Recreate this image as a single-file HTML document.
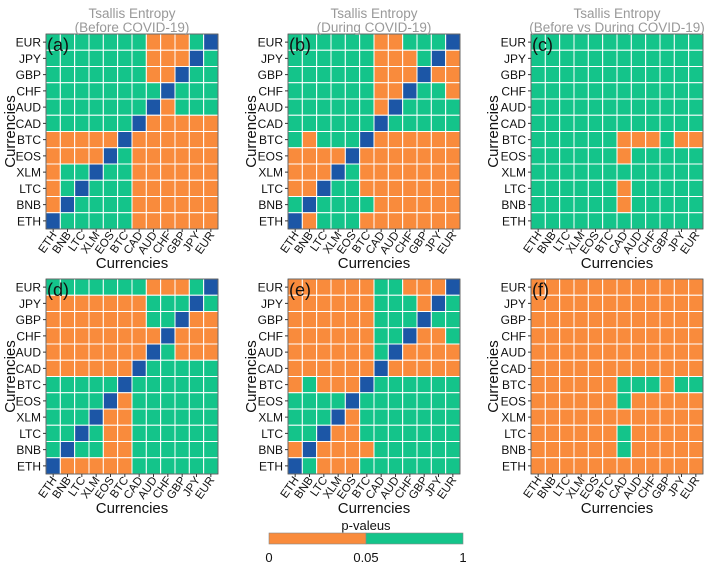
<!DOCTYPE html>
<html><head><meta charset="utf-8">
<style>
body{margin:0;background:#fff;}
svg{display:block;font-family:"Liberation Sans",Arial,sans-serif;}
</style></head>
<body>
<svg id="chart" width="711" height="567" viewBox="0 0 711 567" xmlns="http://www.w3.org/2000/svg"></svg>
<script>
// Categories
const currencies = ["ETH","BNB","LTC","XLM","EOS","BTC","CAD","AUD","CHF","GBP","JPY","EUR"];
// Matrices: rows listed top (EUR) to bottom (ETH); columns ETH..EUR. G = p>0.05, O = p<0.05, B = diagonal
const panelA = ["GGGGGGGOOOGB","GGGGGGGOOOBG","GGGGGGGOOBGG","GGGGGGGGBGGG","GGGGGGGBOGGG","GGGGGGBOOOOO","OOOOOBOOOOOO","OOOOBGOOOOOO","OGGBGGOOOOOO","OGBGGGOOOOOO","OBGGGGOOOOOO","BGGGGGOOOOOO"];
const panelB = ["GGGGGGOOGGGB","GGGGGGOOOGBO","GGGGGGOOOBOO","GGGGGGOOBGGO","GGGGGGOBGGGG","GGGGGGBGGGGG","GOGGGBOOOOOO","OOOOBOOOOOOO","OOOBGOOOOOOO","OOBGGOOOOOOO","GBGGGGOOOOOO","BOGGGOOOOOOO"];
const panelC = ["GGGGGGGGGGGG","GGGGGGGGGGGG","GGGGGGGGGGGG","GGGGGGGGGGGG","GGGGGGGGGGGG","GGGGGGGGGGGG","GGGGGGOOOGOO","GGGGGGOGGGGG","GGGGGGGGGGGG","GGGGGGOGGGGG","GGGGGGOGGGGG","GGGGGGGGGGGG"];
const panelD = ["GGGGGGGOOOGB","OOOOOOOGGGBG","OOOOOOOGGBOO","OOOOOOOOBOOO","OOOOOOOBGOOO","OOOOOOBGGGGG","GGGGGBGGGGGG","GGGGBOGGGGGG","GGGBOOGGGGGG","GGBGOOGGGGGG","GBGGOOGGGGGG","BOOOOOGGGGGG"];
const panelE = ["OOOOOOGGOOOB","OOOOOOGGGOBG","OOOOOOGGGBGG","OOOOOOGGBOOG","OOOOOOGBOOOO","OOOOOOBOOOOO","OGOOOBGGGGGG","GGGGBGGGGGGG","GGGBOGGGGGGG","GGBOOGGGGGGG","OBOOOOGGGGGG","BGOOOGGGGGGG"];
const panelF = ["OOOOOOOOOOOO","OOOOOOOOOOOO","OOOOOOOOOOOO","OOOOOOOOOOOO","OOOOOOOOOOOO","OOOOOOOOOOOO","OOOOOOGGGOGG","OOOOOOGOOOOO","OOOOOOOOOOOO","OOOOOOGOOOOO","OOOOOOGOOOOO","OOOOOOOOOOOO"];
const panelLetters = ["(a)","(b)","(c)","(d)","(e)","(f)"];
const titles1 = ["Tsallis Entropy","Tsallis Entropy","Tsallis Entropy"];
const titles2 = ["(Before COVID-19)","(During COVID-19)","(Before vs During COVID-19)"];
const legendTicks = ["0","0.05","1"];

const COLORS = {G:"#14c48a",O:"#f98b3c",B:"#1c56a6"};
const NS = "http://www.w3.org/2000/svg";
const svg = document.getElementById("chart");
function mk(tag, attrs, parent){const e=document.createElementNS(NS,tag);for(const k in attrs)e.setAttribute(k,attrs[k]);(parent||svg).appendChild(e);return e;}

const lefts=[46,288,531], tops=[34,279], W=172, H=195;
const panels=[panelA,panelB,panelC,panelD,panelE,panelF];
const n=currencies.length;
const cw=W/n, ch=H/n;
function xPos(ci,x0){return x0+ci*cw;}
function yPos(ri,y0){return y0+ri*ch;}

panels.forEach((mat,pi)=>{
  const x0=lefts[pi%3], y0=tops[Math.floor(pi/3)];
  const g=mk("g",{});
  
  
  mat.forEach((row,ri)=>{
    for(let ci=0;ci<n;ci++){
      const r=mk("rect",{x:xPos(ci,x0),y:yPos(ri,y0),width:cw,height:ch,fill:COLORS[row[ci]],stroke:"#ffffff","stroke-width":1},g);
      
      
    }
  });
  const fr=mk("rect",{x:x0,y:y0,width:W,height:H,fill:"none",stroke:"#444","stroke-width":0.8},g);
  
  
  for(let ri=0;ri<n;ri++){
    const yc=yPos(ri,y0)+ch/2;
    const t=mk("text",{x:x0-5,y:yc+4.5,"text-anchor":"end","font-size":12,fill:"#111"},g);
    t.textContent=currencies[n-1-ri];
    
    
    mk("line",{x1:x0-3,x2:x0,y1:yc,y2:yc,stroke:"#333","stroke-width":1},g);
  }
  for(let ci=0;ci<n;ci++){
    const xc=xPos(ci,x0)+cw/2;
    mk("line",{x1:xc,x2:xc,y1:y0+H,y2:y0+H+3,stroke:"#333","stroke-width":1},g);
    const ax=xc+4, ay=y0+H+6;
    const t=mk("text",{x:ax,y:ay,"text-anchor":"end","font-size":11.5,fill:"#111",transform:"rotate(-55 "+ax+" "+ay+")"},g);
    t.textContent=currencies[ci];
    
    
  }
  const xt=mk("text",{x:x0+W/2,y:y0+H+39,"text-anchor":"middle","font-size":15,fill:"#111"},g);
  xt.textContent="Currencies";
  
  
  const yy=y0+H/2;
  const yt=mk("text",{x:0,y:0,"text-anchor":"middle","font-size":15,fill:"#111",transform:"translate("+(pi%3===0?15:(pi%3===1?256:498))+" "+yy+") rotate(-90)"},g);
  yt.textContent="Currencies";
  
  
  const pl=mk("text",{x:x0+1,y:y0+17,"font-size":18,fill:"#111"},g);
  pl.textContent=panelLetters[pi];
  
  
  if(pi<3){
    const t1=mk("text",{x:x0+W/2,y:18,"text-anchor":"middle","font-size":13.5,fill:"#999"},g);
    t1.textContent=titles1[pi];
    
    
    const t2=mk("text",{x:x0+W/2,y:32,"text-anchor":"middle","font-size":13.5,fill:"#999"},g);
    t2.textContent=titles2[pi];
    
    
  }
});

const lg=mk("g",{});


const lt=mk("text",{x:366,y:530,"text-anchor":"middle","font-size":13,fill:"#111"},lg);
lt.textContent="p-valeus";


const r1=mk("rect",{x:269,y:533,width:97,height:11,fill:COLORS.O,stroke:"#888","stroke-width":0.6},lg);


const r2=mk("rect",{x:366,y:533,width:97,height:11,fill:COLORS.G,stroke:"#888","stroke-width":0.6},lg);


[269,366,463].forEach((x,i)=>{
  const t=mk("text",{x:x,y:562,"text-anchor":"middle","font-size":13,fill:"#111"},lg);
  t.textContent=legendTicks[i];
  
  
});
</script>
</body></html>
